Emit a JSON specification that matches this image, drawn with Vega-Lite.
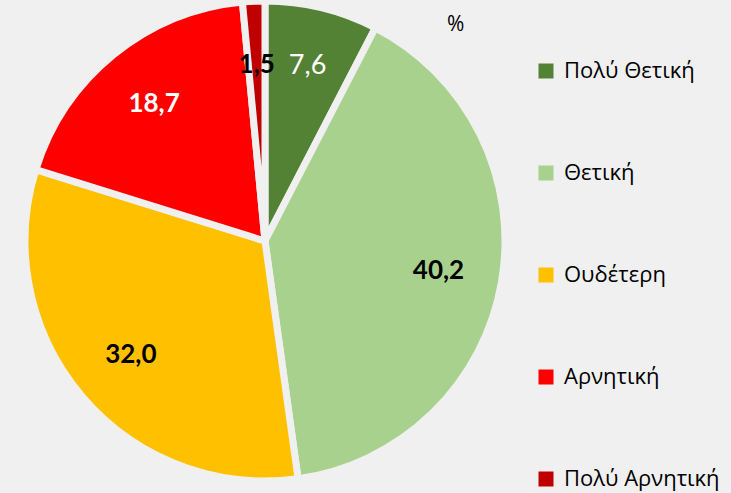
{
  "$schema": "https://vega.github.io/schema/vega-lite/v6.json",
  "width": 530,
  "height": 482,
  "autosize": {"type": "none"},
  "padding": {"left": 0, "top": 0, "right": 201, "bottom": 11},
  "background": "#f0f0f0",
  "title": {"text": "%", "anchor": "start", "dx": 447, "dy": 52, "fontSize": 21, "font": "Open Sans", "fontWeight": "normal", "color": "#000000"},
  "data": {"values": [
    {"cat": "Πολύ Θετική", "value": 7.6, "label": "7,6", "ord": 1},
    {"cat": "Θετική", "value": 40.2, "label": "40,2", "ord": 2},
    {"cat": "Ουδέτερη", "value": 32.0, "label": "32,0", "ord": 3},
    {"cat": "Αρνητική", "value": 18.7, "label": "18,7", "ord": 4},
    {"cat": "Πολύ Αρνητική", "value": 1.5, "label": "1,5", "ord": 5}
  ]},
  "encoding": {
    "theta": {"field": "value", "type": "quantitative", "stack": true},
    "order": {"field": "ord", "type": "quantitative"}
  },
  "layer": [
    {
      "mark": {"type": "arc", "outerRadius": 240, "stroke": "#f0f0f0", "strokeWidth": 7},
      "encoding": {
        "color": {
          "field": "cat", "type": "nominal",
          "scale": {"domain": ["Πολύ Θετική", "Θετική", "Ουδέτερη", "Αρνητική", "Πολύ Αρνητική"],
                    "range": ["#548235", "#a9d18e", "#ffc000", "#ff0000", "#c00000"]},
          "legend": {
            "title": null, "orient": "none", "legendX": 535, "legendY": 60,
            "symbolType": "square", "symbolSize": 225, "symbolStrokeWidth": 0,
            "labelFont": "Open Sans", "labelFontSize": 22, "labelColor": "#000000",
            "labelLimit": 300, "rowPadding": 80, "labelOffset": 7
          }
        }
      }
    },
    {
      "mark": {"type": "text", "radius": 176, "font": "Lato", "fontSize": 26, "fontWeight": "bold"},
      "encoding": {
        "text": {"condition": {"test": "datum.ord == 1", "value": ""}, "field": "label"},
        "color": {"condition": {"test": "datum.ord == 4", "value": "#ffffff"}, "value": "#000000"}
      }
    },
    {
      "mark": {"type": "text", "radius": 180, "font": "Lato", "fontSize": 27, "color": "#ffffff"},
      "encoding": {
        "text": {"condition": {"test": "datum.ord != 1", "value": ""}, "field": "label"}
      }
    }
  ],
  "config": {"view": {"stroke": null}}
}
